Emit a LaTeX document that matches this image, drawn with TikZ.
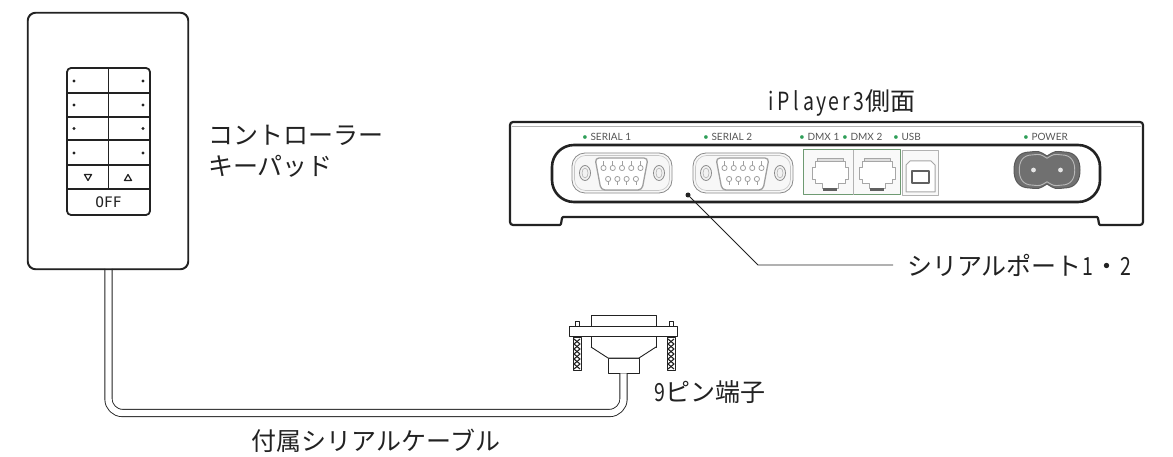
\documentclass[tikz,border=0pt]{standalone}
\usepackage{fontspec}
\usepackage{graphicx}
\newfontfamily\jpfont{Noto Sans CJK JP}
\newfontfamily\portfont{Lato}
\newfontfamily\keyfont{DejaVu Sans Mono}
% half-width, slightly condensed Latin characters inside Japanese labels
\newcommand\halfw[1]{\makebox[0.5em]{\scalebox{0.78}[1]{#1}}}
\definecolor{inkgray}{HTML}{222222}
\definecolor{portgreen}{HTML}{2E9E58}
\definecolor{portgray}{HTML}{555555}
\definecolor{jackgray}{HTML}{8A8A8A}
\definecolor{rjgreen}{HTML}{6E9A72}
\definecolor{powergray}{HTML}{707070}

\tikzset{
  jplabel/.style={font=\jpfont\fontsize{25}{31}\selectfont, inner sep=0pt, text=inkgray},
  portlabel/.style={font=\portfont\fontsize{10}{10}\selectfont, text=portgray, inner sep=0pt, anchor=west},
  cable/.style={draw=inkgray, line width=0.9pt, double=white, double distance=6.4pt},
  keyline/.style={draw=inkgray, line width=1.5pt},
  dsub/.style={draw=inkgray, line width=0.9pt, fill=white},
  leader/.style={draw=inkgray, line width=0.8pt},
  jackline/.style={draw=jackgray, line width=0.8pt},
  % DB-9 socket with its two jack screws, centred on the pic origin
  serialport/.pic={
    \draw[jackline, fill=gray!6, rounded corners=13pt] (-50,-20) rectangle (50,20);
    \draw[draw=gray!45, line width=0.6pt, rounded corners=11pt] (-47.5,-17.5) rectangle (47.5,17.5);
    \foreach \sx in {-37,37}{
      \draw[jackline, fill=gray!10] (\sx,0) ellipse [x radius=5.5, y radius=7.5];
      \draw[draw=gray!60, line width=0.6pt] (\sx,0) ellipse [x radius=3, y radius=5];
    }
    \draw[draw=gray!75, line width=1.3pt, fill=white, rounded corners=4pt]
      (-27,-15) -- (26,-15) -- (20,17) -- (-21,17) -- cycle;
    \foreach \px in {-18.5,-9.25,0,9.25,18.5}{
      \draw[draw=gray!75, line width=0.8pt] (\px,-7.6) -- (\px,-12);
      \draw[draw=gray!75, line width=0.8pt, fill=white] (\px,-5) circle (2.6);
    }
    \foreach \px in {-13.9,-4.6,4.6,13.9}{
      \draw[draw=gray!75, line width=0.8pt] (\px,8.6) -- (\px,12.5);
      \draw[draw=gray!75, line width=0.8pt, fill=white] (\px,6) circle (2.6);
    }
  },
  % RJ45 socket, origin at its upper left corner
  rjport/.pic={
    \draw[draw=gray!70, line width=0.9pt, fill=white]
      (5,4) -- (35,4) -- (35,10) -- (38,10) -- (38,22) -- (35,22) -- (35,26)
      -- (28,26) -- (28,31) -- (12,31) -- (12,26) -- (5,26) -- (5,22)
      -- (2,22) -- (2,10) -- (5,10) -- cycle;
    \draw[draw=gray!70, line width=0.7pt, fill=gray!25] (7,1) rectangle (33,4);
    \fill[gray!75!black] (13,31) rectangle (27,34);
  }
}

\begin{document}
\begin{tikzpicture}[x=1pt, y=-1pt, line join=round]
\useasboundingbox[fill=white] (0,0) rectangle (1173,457);

% ---------------- wall keypad ----------------
\coordinate (cabletop) at (108.5,269);
\coordinate (cablebottom) at (623.5,413);

\node[draw=inkgray, line width=1.2pt, rounded corners=8pt, fill=white,
      minimum width=160pt, minimum height=256pt, inner sep=0pt] (plate) at (108,141) {};

% cable from the keypad to the 9-pin plug (drawn before the plug)
\node[dsub, minimum width=31pt, minimum height=15pt, inner sep=0pt] (dsubneck) at (623.5,365.5) {};
\draw[cable, rounded corners=14pt] (cabletop) |- (cablebottom) -- (dsubneck.south);
\draw[draw=inkgray, line width=1.2pt, rounded corners=8pt] (plate.north west) rectangle (plate.south east);

\node[draw=inkgray, line width=1.8pt, rounded corners=4pt,
      minimum width=83pt, minimum height=147pt, inner sep=0pt] (keyblock) at (108.5,141.5) {};
\foreach \ry in {93,117,140,165,189}
  \draw[keyline] (67,\ry) -- (150,\ry);
\draw[keyline] (108.5,68) -- (108.5,189);
\foreach \ry in {81,105,128.5,153}{
  \fill[inkgray] (74,\ry) circle (1.7);
  \fill[inkgray] (143,\ry) circle (1.7);
}
\draw[draw=inkgray, line width=1.2pt] (84.5,174.5) -- (91.5,174.5) -- (88,180.5) -- cycle;
\draw[draw=inkgray, line width=1.2pt] (124.5,180.5) -- (131.5,180.5) -- (128,174.5) -- cycle;
\node[font=\keyfont\fontsize{14.5}{14.5}\selectfont, text=inkgray, inner sep=0pt] (offkey) at (108.5,202) {OFF};

\node[jplabel, align=left, anchor=west] (keypadlabel) at (208,151.5) {コントローラー\\キーパッド};

% ---------------- 9-pin plug ----------------
\foreach \jx in {573,667}{
  \draw[draw=inkgray, line width=0.8pt, fill=white] (\jx+2,321) rectangle (\jx+6,326);
  \draw[draw=inkgray, line width=0.8pt, fill=white] (\jx,337) rectangle (\jx+8,370);
  \draw[draw=inkgray, line width=1.1pt] (\jx+1,339) -- (\jx+7,344) -- (\jx+1,349) -- (\jx+7,354) -- (\jx+1,359) -- (\jx+7,364) -- (\jx+1,369);
  \draw[draw=inkgray, line width=1.1pt] (\jx+7,339) -- (\jx+1,344) -- (\jx+7,349) -- (\jx+1,354) -- (\jx+7,359) -- (\jx+1,364) -- (\jx+7,369);
}
\draw[dsub] (591,315) rectangle (656,326);
\draw[dsub] (569,326) rectangle (677,336);
\draw[dsub] (591,336) rectangle (656,347);
\draw[dsub] (591,347) -- (608,358) -- (639,358) -- (656,347);

\node[jplabel, anchor=west] (pluglabel) at (653,392) {\halfw{9}ピン端子};
\node[jplabel] (cablelabel) at (376,441) {付属シリアルケーブル};

% ---------------- iPlayer3 side panel ----------------
\node[jplabel] (paneltitle) at (840,103) {\halfw{i}\halfw{P}\halfw{l}\halfw{a}\halfw{y}\halfw{e}\halfw{r}\halfw{3}側面};

\draw[draw=inkgray, line width=2.2pt, fill=white, rounded corners=3pt]
  (510,122) -- (1143,122) -- (1143,225) -- (1103,225)
  .. controls (1098,225) and (1099,217) .. (1094,217) -- (566,217)
  .. controls (561,217) and (562,225) .. (557,225) -- (510,225) -- cycle;
\draw[draw=gray!60, line width=0.8pt] (512,126.5) -- (1141,126.5);

\draw[draw=inkgray, line width=2.6pt, rounded corners=22pt] (552,145) rectangle (1100,202);

\node[portlabel] (lblserialA) at (582,137) {{\color{portgreen}\textbullet}\ SERIAL 1};
\node[portlabel] (lblserialB) at (703,137) {{\color{portgreen}\textbullet}\ SERIAL 2};
\node[portlabel] (lbldmxA) at (799,137) {{\color{portgreen}\textbullet}\ DMX 1};
\node[portlabel] (lbldmxB) at (842,137) {{\color{portgreen}\textbullet}\ DMX 2};
\node[portlabel] (lblusb) at (893,137) {{\color{portgreen}\textbullet}\ USB};
\node[portlabel] (lblpower) at (1023,137) {{\color{portgreen}\textbullet}\ POWER};

\pic at (622,173) {serialport};
\pic at (743,173) {serialport};

% DMX jacks and USB-B socket
\draw[draw=rjgreen, line width=1pt, fill=gray!5] (803,150) rectangle (900,195);
\draw[draw=gray!60, line width=0.8pt] (853.5,150) -- (853.5,195);
\pic at (810,157) {rjport};
\pic at (857,157) {rjport};
\draw[draw=gray!60, line width=0.9pt, fill=gray!5] (902,150) rectangle (938,195);
\draw[draw=gray!70, line width=1pt, fill=white] (906,165) -- (910,161) -- (931,161) -- (935,165) -- (935,192) -- (906,192) -- cycle;
\draw[draw=gray!75!black, line width=1.5pt] (912,171) rectangle (929,183);

% power inlet (figure-8)
\begin{scope}[shift={(1047,170)}]
  \draw[draw=gray!70!black, line width=1pt, fill=powergray]
    (0,-14) .. controls (8,-19) .. (17,-18) .. controls (29,-18) and (33,-10) .. (33,0)
    .. controls (33,10) and (29,18) .. (17,18) .. controls (8,19) .. (0,14)
    .. controls (-8,19) .. (-17,18) .. controls (-29,18) and (-33,10) .. (-33,0)
    .. controls (-33,-10) and (-29,-18) .. (-17,-18) .. controls (-8,-19) .. (0,-14) -- cycle;
  \begin{scope}[scale=0.84]
    \draw[draw=gray!55, line width=0.9pt]
      (0,-14) .. controls (8,-19) .. (17,-18) .. controls (29,-18) and (33,-10) .. (33,0)
      .. controls (33,10) and (29,18) .. (17,18) .. controls (8,19) .. (0,14)
      .. controls (-8,19) .. (-17,18) .. controls (-29,18) and (-33,10) .. (-33,0)
      .. controls (-33,-10) and (-29,-18) .. (-17,-18) .. controls (-8,-19) .. (0,-14) -- cycle;
  \end{scope}
  \fill[gray!20] (-13.5,0) circle (2.4);
  \fill[gray!20] (13.5,0) circle (2.4);
\end{scope}

% leader to the serial port label
\node[circle, fill=inkgray, inner sep=0pt, minimum size=5pt] (portdot) at (688,195) {};
\coordinate (leaderbend) at (758,265);
\node[jplabel, anchor=west] (seriallabel) at (907,265) {シリアルポート\halfw{1}・\halfw{2}};
\draw[leader, shorten >=14pt] (portdot.center) -- (leaderbend) -- (seriallabel.west);

\end{tikzpicture}
\end{document}
